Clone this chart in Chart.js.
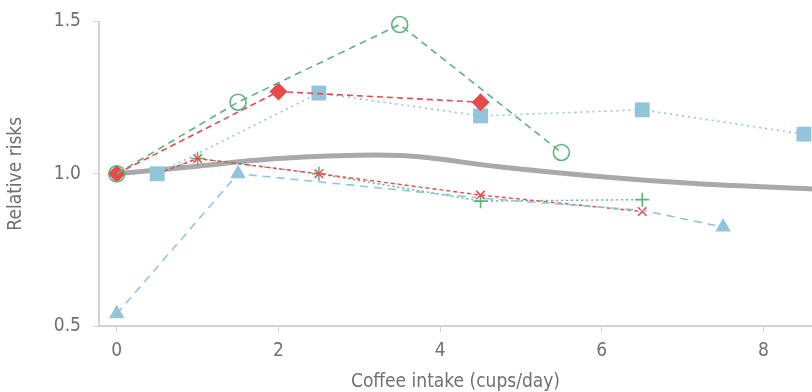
<!DOCTYPE html>
<html>
<head>
  <meta charset="utf-8">
  <title>Coffee intake and relative risks</title>
  <script src="https://cdn.jsdelivr.net/npm/chart.js"></script>
  <style>
    body { margin: 0; padding: 0; background: #ffffff; }
    #wrap { width: 812px; height: 392px; }
  </style>
</head>
<body>
  <div id="wrap"><canvas id="myChart"></canvas></div>
  <script>
    // tick labels
    const xTicks = [0, 2, 4, 6, 8];
    const yTicks = [0.5, 1.0, 1.5];

    // study curves (cups/day, relative risk)
    const greenX = [0, 1.5, 3.5, 5.5];
    const greenY = [1.0, 1.235, 1.49, 1.07];

    const redX = [0, 2, 4.5];
    const redY = [1.0, 1.27, 1.235];

    const squareX = [0.5, 2.5, 4.5, 6.5, 8.5];
    const squareY = [1.0, 1.265, 1.19, 1.21, 1.13];

    const triX = [0, 1.5, 4.5, 6.5, 7.5];
    const triY = [0.54, 1.0, 0.92, 0.88, 0.825];
    const triShown = [true, true, false, false, true];

    const crossX = [0.5, 1, 2.5, 4.5, 6.5];
    const crossY = [1.0, 1.05, 1.0, 0.93, 0.876];

    const plusX = [0.5, 1, 2.5, 4.5, 6.5];
    const plusY = [1.0, 1.05, 1.0, 0.91, 0.915];

    // pooled curve
    const pooledX = [0, 1, 2, 3.5, 4.75, 6, 7.2, 8.6];
    const pooledY = [1.0, 1.025, 1.05, 1.06, 1.022, 0.99, 0.967, 0.95];

    const pts = (xs, ys) => xs.map((x, i) => ({ x: x, y: ys[i] }));

    const green = '#5db37e';
    const red = '#e84a4c';
    const blue = '#92c5dc';
    const family = '"Liberation Sans Narrow", "DejaVu Sans Condensed", sans-serif';
    const font = { family: family, size: 19, lineHeight: 1.0 };

    const ctx = document.getElementById('myChart').getContext('2d');
    new Chart(ctx, {
      type: 'line',
      data: {
        datasets: [
          {
            data: pts(greenX, greenY),
            borderColor: green, borderWidth: 1.6, borderDash: [7, 5],
            pointStyle: 'circle', pointRadius: 8, pointBorderWidth: 1.6,
            pointBorderColor: green, pointBackgroundColor: 'rgba(255,255,255,0)'
          },
          {
            data: pts(redX, redY),
            borderColor: red, borderWidth: 1.6, borderDash: [6, 4],
            pointStyle: 'rectRot', pointRadius: 9, pointBorderWidth: 0,
            pointBackgroundColor: red
          },
          {
            data: pts(squareX, squareY),
            borderColor: blue, borderWidth: 1.6, borderDash: [2, 4],
            pointStyle: 'rect', pointRadius: 10.5, pointBorderWidth: 0,
            pointBackgroundColor: blue
          },
          {
            data: pts(triX, triY),
            borderColor: blue, borderWidth: 1.6, borderDash: [8, 6],
            pointStyle: 'triangle', pointRadius: triShown.map(s => s ? 9 : 0),
            pointBorderWidth: 0, pointBackgroundColor: blue
          },
          {
            data: pts(crossX, crossY),
            borderColor: red, borderWidth: 1.4, borderDash: [4, 3],
            pointStyle: 'crossRot', pointRadius: 6, pointBorderWidth: 1.6,
            pointBorderColor: red
          },
          {
            data: pts(plusX, plusY),
            borderColor: green, borderWidth: 1.4, borderDash: [2, 3],
            pointStyle: 'cross', pointRadius: 7, pointBorderWidth: 1.6,
            pointBorderColor: green
          },
          {
            data: pts(pooledX, pooledY),
            borderColor: '#a9a9a9', borderWidth: 5, tension: 0.35,
            pointRadius: 0
          }
        ]
      },
      options: {
        responsive: true,
        maintainAspectRatio: false,
        animation: false,
        layout: { autoPadding: false, padding: { top: 2, right: 0, left: 5, bottom: 0 } },
        elements: { line: { fill: false }, point: { hoverRadius: 0 } },
        datasets: { line: { clip: false } },
        scales: {
          x: {
            type: 'linear',
            min: -0.22,
            max: 8.6,
            afterBuildTicks: s => { s.ticks = xTicks.map(v => ({ value: v })); },
            border: { color: '#d2d2d2', width: 2 },
            grid: { drawOnChartArea: false, drawTicks: true, tickLength: 6, color: '#d2d2d2' },
            ticks: { color: '#707070', font: font, padding: 10 },
            title: { display: true, text: 'Coffee intake (cups/day)', color: '#707070',
                     font: font, padding: { top: 2, bottom: 0 } }
          },
          y: {
            type: 'linear',
            min: 0.5,
            max: 1.5,
            afterBuildTicks: s => { s.ticks = yTicks.map(v => ({ value: v })); },
            border: { color: '#d2d2d2', width: 2 },
            grid: { drawOnChartArea: false, drawTicks: true, tickLength: 6, color: '#d2d2d2' },
            ticks: { color: '#707070', font: font, padding: 12, callback: v => v.toFixed(1) },
            title: { display: true, text: 'Relative risks', color: '#707070',
                     font: { family: family, size: 19 }, padding: { top: 0, bottom: 14 } }
          }
        },
        plugins: {
          legend: { display: false },
          tooltip: { enabled: false }
        }
      }
    });
  </script>
</body>
</html>
